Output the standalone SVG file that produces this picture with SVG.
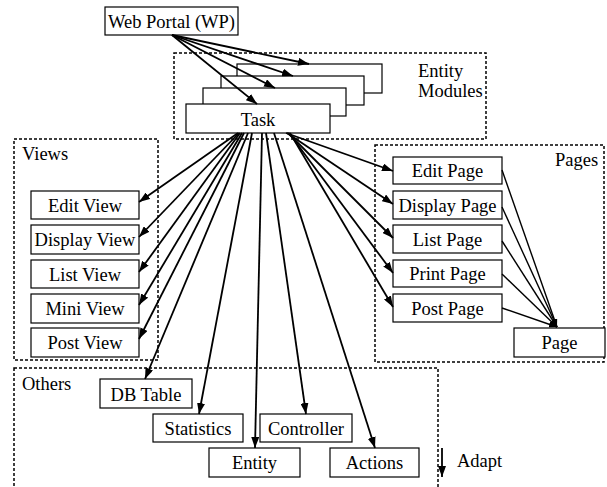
<svg xmlns="http://www.w3.org/2000/svg" width="607" height="487" viewBox="0 0 607 487" font-family="'Liberation Serif', 'Times New Roman', 'DejaVu Serif', serif">
  <style>
    .box { fill: #fff; stroke: #000; stroke-width: 1.2; }
    .grp { fill: none; stroke: #000; stroke-width: 1.5; stroke-dasharray: 3 2; }
    text { font-family: 'Liberation Serif', 'Times New Roman', 'DejaVu Serif', serif; font-size: 18.5px; fill: #000; }
    .mid { text-anchor: middle; }
    .edge { fill: none; stroke: #000; stroke-width: 1.8; marker-end: url(#arr); }
    .thin { fill: none; stroke: #000; stroke-width: 1.4; marker-end: url(#arrS); }
  </style>
  <defs>
    <marker id="arr" markerUnits="userSpaceOnUse" markerWidth="11" markerHeight="8" refX="11" refY="4" orient="auto">
      <path d="M0,0 L11,4 L0,8 z" fill="#000"/>
    </marker>
    <marker id="arrS" markerUnits="userSpaceOnUse" markerWidth="8" markerHeight="6" refX="8" refY="3" orient="auto">
      <path d="M0,0 L8,3 L0,6 z" fill="#000"/>
    </marker>
  </defs>
  <rect width="607" height="487" fill="#fff"/>

  <!-- grouping frames -->
  <g id="frames">
    <rect class="grp" x="174" y="53" width="312" height="86"/>
    <rect class="grp" x="14" y="139" width="144" height="221"/>
    <rect class="grp" x="375" y="145" width="229" height="217"/>
    <rect class="grp" x="14" y="368" width="424" height="130"/>
    <text x="418" y="77">Entity</text>
    <text x="418" y="97">Modules</text>
    <text x="22" y="160">Views</text>
    <text x="555" y="166">Pages</text>
    <text x="22" y="390">Others</text>
  </g>

  <g id="web-portal">
    <rect class="box" x="105" y="7" width="133" height="28"/>
    <text class="mid" x="171.5" y="28">Web Portal (WP)</text>
  </g>

  <!-- stacked entity modules, back to front -->
  <g id="module-4"><rect class="box" x="237" y="64" width="145" height="29"/></g>
  <g id="module-3"><rect class="box" x="221" y="76" width="143" height="29"/></g>
  <g id="module-2"><rect class="box" x="203" y="88" width="143" height="28"/></g>
  <g id="task">
    <rect class="box" x="186" y="104" width="144" height="29"/>
    <text class="mid" x="258" y="126">Task</text>
  </g>

  <g id="edit-view"><rect class="box" x="31" y="191" width="108" height="28"/><text class="mid" x="85" y="212">Edit View</text></g>
  <g id="display-view"><rect class="box" x="31" y="225" width="108" height="29"/><text class="mid" x="85" y="246">Display View</text></g>
  <g id="list-view"><rect class="box" x="31" y="260" width="108" height="28"/><text class="mid" x="85" y="281">List View</text></g>
  <g id="mini-view"><rect class="box" x="31" y="294" width="108" height="29"/><text class="mid" x="85" y="315">Mini View</text></g>
  <g id="post-view"><rect class="box" x="31" y="328" width="108" height="29"/><text class="mid" x="85" y="349">Post View</text></g>

  <g id="edit-page"><rect class="box" x="393" y="157" width="109" height="27"/><text class="mid" x="447.5" y="177">Edit Page</text></g>
  <g id="display-page"><rect class="box" x="393" y="191" width="109" height="28"/><text class="mid" x="447.5" y="212">Display Page</text></g>
  <g id="list-page"><rect class="box" x="393" y="225" width="109" height="28"/><text class="mid" x="447.5" y="246">List Page</text></g>
  <g id="print-page"><rect class="box" x="393" y="260" width="109" height="27"/><text class="mid" x="447.5" y="280">Print Page</text></g>
  <g id="post-page"><rect class="box" x="393" y="294" width="109" height="28"/><text class="mid" x="447.5" y="315">Post Page</text></g>
  <g id="page"><rect class="box" x="514" y="328" width="91" height="29"/><text class="mid" x="559.5" y="349">Page</text></g>

  <g id="db-table"><rect class="box" x="100" y="379" width="92" height="29"/><text class="mid" x="146" y="401">DB Table</text></g>
  <g id="statistics"><rect class="box" x="153" y="414" width="90" height="28"/><text class="mid" x="198" y="435">Statistics</text></g>
  <g id="controller"><rect class="box" x="260" y="414" width="92" height="28"/><text class="mid" x="306" y="435">Controller</text></g>
  <g id="entity"><rect class="box" x="209" y="448" width="91" height="29"/><text class="mid" x="254.5" y="469">Entity</text></g>
  <g id="actions"><rect class="box" x="330" y="448" width="89" height="29"/><text class="mid" x="374.5" y="469">Actions</text></g>

  <g id="adapt">
    <line class="edge" x1="442" y1="448" x2="442" y2="477"/>
    <text x="457" y="467">Adapt</text>
  </g>

  <g id="connectors">
    <!-- portal to modules -->
    <line class="edge" x1="172" y1="35" x2="309" y2="64"/>
    <line class="edge" x1="172" y1="35" x2="293" y2="76"/>
    <line class="edge" x1="172" y1="35" x2="275" y2="88"/>
    <line class="edge" x1="172" y1="35" x2="257" y2="104"/>
    <!-- task to views -->
    <line class="edge" x1="238" y1="133" x2="139" y2="202"/>
    <line class="edge" x1="239" y1="133" x2="139" y2="237"/>
    <line class="edge" x1="240" y1="133" x2="139" y2="272"/>
    <line class="edge" x1="242" y1="133" x2="139" y2="305"/>
    <line class="edge" x1="244" y1="133" x2="139" y2="339"/>
    <!-- task to others -->
    <line class="edge" x1="248" y1="133" x2="145" y2="379"/>
    <line class="edge" x1="252" y1="133" x2="199" y2="414"/>
    <line class="edge" x1="262" y1="133" x2="255" y2="448"/>
    <line class="edge" x1="266" y1="133" x2="306" y2="414"/>
    <line class="edge" x1="274" y1="133" x2="375" y2="448"/>
    <!-- task to pages -->
    <line class="edge" x1="286" y1="133" x2="393" y2="171"/>
    <line class="edge" x1="287" y1="133" x2="393" y2="204"/>
    <line class="edge" x1="288" y1="133" x2="393" y2="238"/>
    <line class="edge" x1="289" y1="133" x2="393" y2="273"/>
    <line class="edge" x1="290" y1="133" x2="393" y2="307"/>
    <!-- pages to page -->
    <line class="thin" x1="502" y1="170" x2="557" y2="327"/>
    <line class="thin" x1="502" y1="207" x2="557" y2="327"/>
    <line class="thin" x1="502" y1="241" x2="557" y2="327"/>
    <line class="thin" x1="502" y1="274" x2="557" y2="327"/>
    <line class="thin" x1="502" y1="308" x2="557" y2="327"/>
  </g>
</svg>
